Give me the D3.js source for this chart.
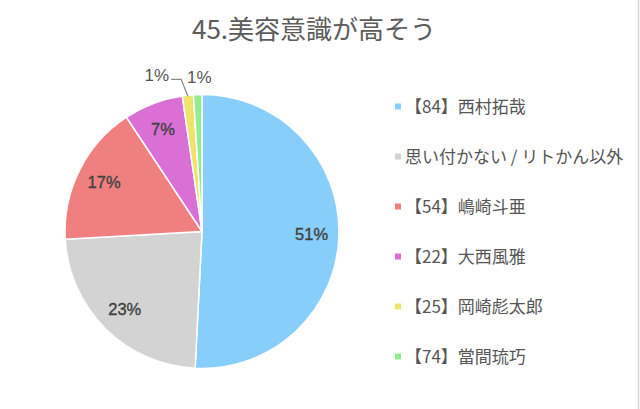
<!DOCTYPE html>
<html><head><meta charset="utf-8">
<script src="https://cdn.jsdelivr.net/npm/d3@7"></script>
<style>
html,body{margin:0;padding:0;background:#fff;}
svg{display:block;}
</style></head>
<body>
<svg id="chart" width="640" height="409"></svg>
<script>
const title = "45.美容意識が高そう";
const categories = ["【84】西村拓哉","思い付かない / リトかん以外","【54】嶋崎斗亜","【22】大西風雅","【25】岡崎彪太郎","【74】當間琉巧"];
const values = [50.8, 23.3, 16.6, 7.0, 1.3, 1.0];
const colors = ["#87CEFA","#D3D3D3","#F08080","#DA70D6","#EEE46C","#90EE90"];

const svg = d3.select("#chart");
const font = "'Noto Sans CJK JP', 'Noto Sans', sans-serif";
const numFont = "'Liberation Sans', Arial, sans-serif";
const cx = 202, cy = 231.5, r = 137;

svg.append("rect").attr("x",0).attr("y",0).attr("width",640).attr("height",409).attr("fill","#fff");
svg.append("line").attr("x1",638.5).attr("x2",638.5).attr("y1",0).attr("y2",409)
  .attr("stroke","#d8d8d8").attr("stroke-width",1.5);

svg.append("text").attr("x",314).attr("y",39).attr("text-anchor","middle")
  .attr("font-family",font).attr("font-size",26).attr("fill","#5c5c5c").text(title);

const total = d3.sum(values);
const pie = d3.pie().sort(null).value(d=>d)(values);
const arc = d3.arc().innerRadius(0).outerRadius(r);
const g = svg.append("g").attr("transform",`translate(${cx},${cy})`);
g.selectAll("path").data(pie).join("path")
  .attr("d",arc).attr("fill",(d,i)=>colors[i])
  .attr("stroke","#fff").attr("stroke-width",1.5);

const labelArc = d3.arc().innerRadius(r*0.8).outerRadius(r*0.8);
pie.forEach((d,i)=>{
  const pct = Math.round(d.value/total*100) + "%";
  if (d.value/total >= 0.05) {
    const [x,y] = labelArc.centroid(d);
    g.append("text").attr("x",x).attr("y",y).attr("dy","0.36em")
      .attr("text-anchor","middle").attr("font-family",numFont)
      .attr("font-size",16.5).attr("fill","#404040")
      .attr("stroke","#404040").attr("stroke-width",0.35).text(pct);
  }
});
// outside labels for small slices
const small = pie.slice(4);
{
  const d = small[0];
  const a = (d.startAngle+d.endAngle)/2;
  const x0 = Math.sin(a)*(r-1), y0 = -Math.cos(a)*(r-1);
  const x1 = Math.sin(a)*(r+16) - 5, y1 = -Math.cos(a)*(r+16);
  g.append("path").attr("d",`M${x0},${y0}L${x1},${y1}L${x1-10},${y1}`)
    .attr("fill","none").attr("stroke","#8a8a8a").attr("stroke-width",1.3);
  g.append("text").attr("x",x1-12).attr("y",y1).attr("dy","0.08em").attr("text-anchor","end")
    .attr("font-family",numFont).attr("font-size",17)
    .attr("fill","#555").text(Math.round(d.value/total*100)+"%");
}
{
  const d = small[1];
  const a = (d.startAngle+d.endAngle)/2;
  const x1 = Math.sin(a)*(r+15), y1 = -Math.cos(a)*(r+15);
  g.append("text").attr("x",x1+2).attr("y",y1).attr("dy","0.22em").attr("text-anchor","middle")
    .attr("font-family",numFont).attr("font-size",17)
    .attr("fill","#555").text(Math.round(d.value/total*100)+"%");
}

const leg = svg.append("g");
categories.forEach((c,i)=>{
  const y = 106.5 + i*50;
  leg.append("rect").attr("x",395).attr("y",y-3).attr("width",6).attr("height",6).attr("fill",colors[i]);
  leg.append("text").attr("x",405).attr("y",y).attr("dy","0.36em")
    .attr("font-family",font).attr("font-size",17).attr("fill","#555").text(c);
});
</script>
</body></html>
